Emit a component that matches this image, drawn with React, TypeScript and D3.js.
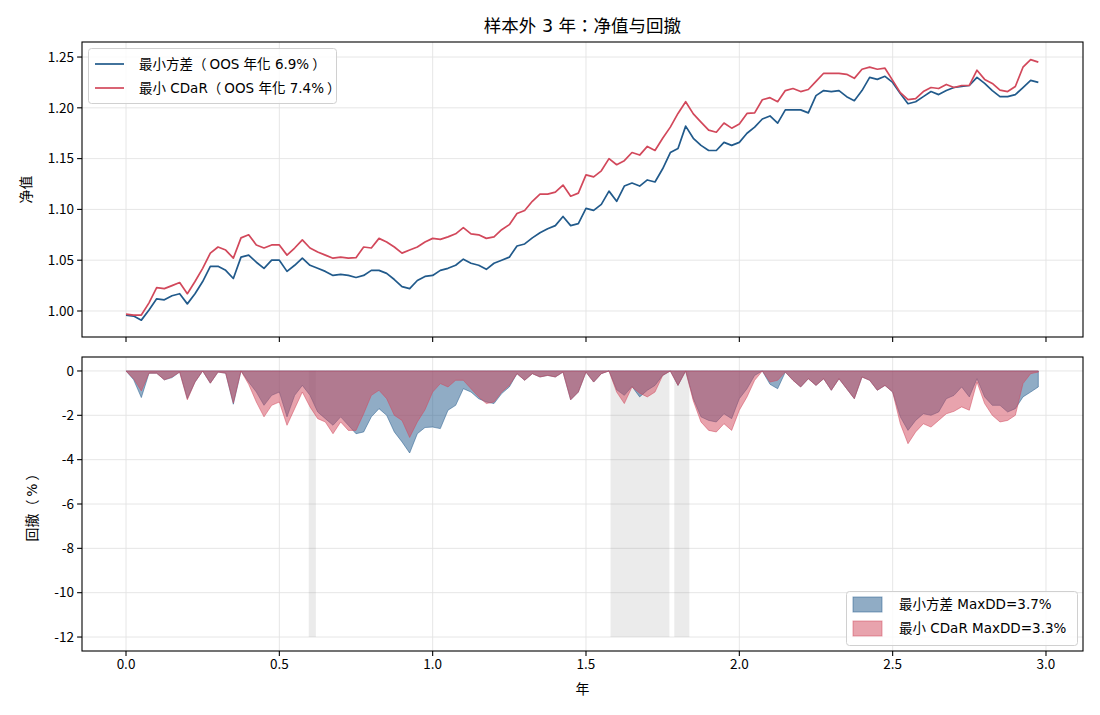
import * as d3 from "d3";
import { useEffect } from "react";

// sampling grid: one reading every 0.025 year
const step = 0.025;

// net value, min-variance portfolio
const navMinVar = [
  0.996, 0.995, 0.991, 1.001, 1.012, 1.011, 1.015, 1.017, 1.007, 1.017,
  1.029, 1.044, 1.044, 1.040, 1.032, 1.053, 1.055, 1.048, 1.042, 1.050,
  1.050, 1.039, 1.045, 1.052, 1.045, 1.042, 1.039, 1.035, 1.036, 1.035,
  1.033, 1.035, 1.040, 1.040, 1.037, 1.031, 1.024, 1.022, 1.030, 1.034,
  1.035, 1.040, 1.042, 1.045, 1.051, 1.047, 1.045, 1.041, 1.047, 1.050,
  1.053, 1.064, 1.066, 1.072, 1.077, 1.081, 1.084, 1.093, 1.084, 1.086,
  1.101, 1.099, 1.105, 1.118, 1.108, 1.123, 1.126, 1.123, 1.129, 1.127,
  1.140, 1.156, 1.160, 1.182, 1.170, 1.163, 1.158, 1.158, 1.166, 1.163,
  1.166, 1.175, 1.181, 1.189, 1.192, 1.185, 1.198, 1.198, 1.198, 1.195,
  1.212, 1.217, 1.216, 1.217, 1.211, 1.207, 1.217, 1.230, 1.228, 1.231,
  1.225, 1.214, 1.204, 1.206, 1.211, 1.216, 1.213, 1.217, 1.220, 1.221,
  1.222, 1.230, 1.224, 1.217, 1.211, 1.211, 1.213, 1.220, 1.227, 1.225,
];

// net value, min-CDaR portfolio
const navMinCdar = [
  0.997, 0.996, 0.996, 1.008, 1.023, 1.022, 1.025, 1.028, 1.017, 1.029,
  1.042, 1.057, 1.063, 1.060, 1.052, 1.072, 1.075, 1.065, 1.062, 1.065,
  1.065, 1.055, 1.062, 1.070, 1.062, 1.058, 1.055, 1.052, 1.053, 1.052,
  1.0525, 1.063, 1.062, 1.0715, 1.068, 1.063, 1.057, 1.060, 1.063, 1.068,
  1.0715, 1.0705, 1.073, 1.076, 1.082, 1.076, 1.075, 1.0715, 1.073, 1.080,
  1.085, 1.096, 1.099, 1.108, 1.115, 1.115, 1.117, 1.124, 1.113, 1.116,
  1.134, 1.132, 1.138, 1.150, 1.144, 1.148, 1.156, 1.1535, 1.162, 1.158,
  1.170, 1.181, 1.1945, 1.206, 1.194, 1.186, 1.178, 1.176, 1.185, 1.180,
  1.184, 1.1945, 1.195, 1.208, 1.210, 1.206, 1.217, 1.219, 1.216, 1.218,
  1.226, 1.234, 1.234, 1.234, 1.233, 1.229, 1.238, 1.240, 1.238, 1.239,
  1.227, 1.215, 1.208, 1.209, 1.216, 1.220, 1.219, 1.223, 1.220, 1.222,
  1.222, 1.237, 1.228, 1.224, 1.2175, 1.216, 1.221, 1.240, 1.2475, 1.245,
];

// drawdown in %, min-variance
const ddMinVar = [
  0, -0.4, -1.2, -0.1, -0.1, -0.4, -0.3, -0.05, -1.25, -0.5,
  0, -0.55, -0.05, -0.1, -1.5, 0, -0.5, -0.95, -1.55, -1.1,
  -0.95, -2.07, -1.1, -0.65, -1.1, -1.85, -2.15, -2.45, -2.07, -2.45,
  -2.83, -2.75, -2.07, -1.7, -2.0, -2.75, -3.2, -3.7, -2.83, -2.55,
  -2.53, -2.6, -1.77, -1.55, -0.8, -0.95, -1.25, -1.4, -1.47, -1.02,
  -0.72, -0.12, -0.42, -0.12, -0.27, -0.2, -0.27, -0.05, -1.3, -0.95,
  -0.05, -0.5, -0.12, 0, -0.85, -1.1, -0.7, -1.17, -0.87, -0.65,
  -0.2, 0, -0.65, 0, -1.25, -2.07, -2.23, -2.3, -1.93, -2.15,
  -1.25, -0.8, -0.2, 0, -0.6, -0.8, -0.05, -0.42, -0.72, -0.35,
  -0.65, -0.35, -0.87, -0.35, -0.8, -1.25, -0.27, -0.42, -0.87, -0.65,
  -0.95, -2.07, -2.68, -2.23, -1.93, -2.0, -1.85, -1.25, -1.1, -0.72,
  -1.17, -0.35, -1.17, -1.55, -1.55, -1.85, -1.7, -1.17, -0.95, -0.72,
];

// drawdown in %, min-CDaR
const ddMinCdar = [
  0, -0.35, -0.9, -0.1, -0.1, -0.4, -0.27, -0.05, -1.3, -0.5,
  0, -0.55, -0.05, -0.1, -1.45, 0, -0.6, -1.4, -2.07, -1.55,
  -1.4, -2.45, -1.7, -0.95, -1.62, -2.15, -2.3, -2.83, -2.3, -2.68,
  -2.68, -1.93, -1.1, -0.87, -1.25, -2.0, -2.23, -3.0, -2.3, -1.75,
  -0.95, -0.57, -0.72, -0.42, -0.42, -0.8, -1.17, -1.47, -1.4, -0.95,
  -0.65, -0.12, -0.42, -0.12, -0.27, -0.2, -0.27, -0.05, -1.3, -0.95,
  -0.05, -0.5, -0.12, 0, -0.95, -1.47, -0.72, -1.0, -1.17, -0.95,
  -0.2, 0, -0.65, 0, -1.35, -2.3, -2.68, -2.75, -2.38, -2.68,
  -1.77, -1.17, -0.42, 0, -0.5, -0.42, -0.05, -0.42, -0.72, -0.35,
  -0.65, -0.35, -0.87, -0.35, -0.8, -1.25, -0.27, -0.42, -0.87, -0.65,
  -0.95, -2.38, -3.28, -2.75, -2.38, -2.53, -2.23, -1.93, -1.82, -1.62,
  -1.77, -0.5, -1.47, -2.0, -2.3, -2.23, -2.0, -0.57, -0.12, -0.05,
];

// shaded periods (years)
const shadeSpans: [number, number][] = [
  [0.596, 0.619],
  [1.58, 1.772],
  [1.788, 1.837],
];

const seriesNames = ["最小方差", "最小 CDaR"];
const oosAnnual = ["6.9%", "7.4%"];
const maxDD = ["3.7%", "3.3%"];

const xTicks = [0, 0.5, 1.0, 1.5, 2.0, 2.5, 3.0];
const navTicks = [1.0, 1.05, 1.1, 1.15, 1.2, 1.25];
const ddTicks = [0, -2, -4, -6, -8, -10, -12];

const BLUE = "#215a8b";
const RED = "#d2485b";
const TICK_FONT = "'Noto Sans CJK TC', 'Noto Sans', sans-serif";
const TEXT_FONT = "'DejaVu Sans', 'Noto Sans CJK TC', sans-serif";

const left = 82;
const right = 1083;
const top1 = 42;
const bot1 = 337;
const top2 = 357;
const bot2 = 651;

const App = () => {
  useEffect(() => {
    document.body.style.margin = "0";
  }, []);

  const x = d3.scaleLinear().domain([-0.1435, 3.1207]).range([left, right]);
  const yNav = d3.scaleLinear().domain([0.9744, 1.2648]).range([bot1, top1]);
  const yDD = d3.scaleLinear().domain([-12.63, 0.63]).range([bot2, top2]);

  const t = (i: number) => i * step;

  const navLine = d3
    .line<number>()
    .x((_, i) => x(t(i)))
    .y(d => yNav(d));

  const ddArea = d3
    .area<number>()
    .x((_, i) => x(t(i)))
    .y0(yDD(0))
    .y1(d => yDD(d));

  const grid = "#e3e3e3";

  return (
    <svg width={1100} height={715} style={{ display: "block" }} fontFamily={TEXT_FONT}>
      <rect width={1100} height={715} fill="white" />
      <text x={582.5} y={32} textAnchor="middle" fontSize={17.5}>
        样本外 3 年：净值与回撤
      </text>

      {/* ---- top panel: NAV ---- */}
      <g>
        {xTicks.map(v => (
          <line key={"gx1" + v} x1={x(v)} x2={x(v)} y1={top1} y2={bot1} stroke={grid} strokeWidth={0.9} />
        ))}
        {navTicks.map(v => (
          <line key={"gy1" + v} x1={left} x2={right} y1={yNav(v)} y2={yNav(v)} stroke={grid} strokeWidth={0.9} />
        ))}
        <path d={navLine(navMinVar) ?? ""} fill="none" stroke={BLUE} strokeWidth={1.7} strokeLinejoin="round" />
        <path d={navLine(navMinCdar) ?? ""} fill="none" stroke={RED} strokeWidth={1.7} strokeLinejoin="round" />
        <rect x={left} y={top1} width={right - left} height={bot1 - top1} fill="none" stroke="black" strokeWidth={1.1} />
        {navTicks.map(v => (
          <g key={"ty1" + v} transform={`translate(${left},${yNav(v)})`}>
            <line x1={-4.9} x2={0} stroke="black" strokeWidth={1.1} />
            <text x={-8} dy="0.35em" textAnchor="end" fontSize={13.5} fontFamily={TICK_FONT}>
              {v.toFixed(2)}
            </text>
          </g>
        ))}
        {xTicks.map(v => (
          <line key={"tx1" + v} x1={x(v)} x2={x(v)} y1={bot1} y2={bot1 + 4.9} stroke="black" strokeWidth={1.1} />
        ))}
        <text transform={`translate(31,${(top1 + bot1) / 2}) rotate(-90)`} textAnchor="middle" fontSize={13.9}>
          净值
        </text>

        {/* legend */}
        <rect x={88.5} y={48.5} width={248} height={55} rx={3} fill="white" fillOpacity={0.8} stroke="#d0d0d0" />
        {[BLUE, RED].map((c, i) => (
          <g key={"lg1" + i} transform={`translate(95,${64 + i * 24})`}>
            <line x1={0} x2={29} stroke={c} strokeWidth={1.7} />
            <text x={44} dy="0.35em" fontSize={13.5}>
              {seriesNames[i]}（<tspan dx={3}>{`OOS 年化 ${oosAnnual[i]}`}</tspan>
              <tspan dx={3}>）</tspan>
            </text>
          </g>
        ))}
      </g>

      {/* ---- bottom panel: drawdown ---- */}
      <g>
        {xTicks.map(v => (
          <line key={"gx2" + v} x1={x(v)} x2={x(v)} y1={top2} y2={bot2} stroke={grid} strokeWidth={0.9} />
        ))}
        {ddTicks.map(v => (
          <line key={"gy2" + v} x1={left} x2={right} y1={yDD(v)} y2={yDD(v)} stroke={grid} strokeWidth={0.9} />
        ))}
        {shadeSpans.map(([a, b], i) => (
          <rect key={"sp" + i} x={x(a)} width={x(b) - x(a)} y={yDD(0)} height={yDD(-12) - yDD(0)} fill="#808080" fillOpacity={0.16} />
        ))}
        <path d={ddArea(ddMinVar) ?? ""} fill={BLUE} fillOpacity={0.5} stroke={BLUE} strokeOpacity={0.5} strokeWidth={1} />
        <path d={ddArea(ddMinCdar) ?? ""} fill={RED} fillOpacity={0.5} stroke={RED} strokeOpacity={0.5} strokeWidth={1} />
        <rect x={left} y={top2} width={right - left} height={bot2 - top2} fill="none" stroke="black" strokeWidth={1.1} />
        {ddTicks.map(v => (
          <g key={"ty2" + v} transform={`translate(${left},${yDD(v)})`}>
            <line x1={-4.9} x2={0} stroke="black" strokeWidth={1.1} />
            <text x={-8} dy="0.35em" textAnchor="end" fontSize={13.5} fontFamily={TICK_FONT}>
              {String(v)}
            </text>
          </g>
        ))}
        {xTicks.map(v => (
          <g key={"tx2" + v} transform={`translate(${x(v)},${bot2})`}>
            <line y1={0} y2={4.9} stroke="black" strokeWidth={1.1} />
            <text y={18} textAnchor="middle" fontSize={13.5} fontFamily={TICK_FONT}>
              {v.toFixed(1)}
            </text>
          </g>
        ))}
        <text transform={`translate(37,${(top2 + bot2) / 2}) rotate(-90)`} textAnchor="middle" fontSize={13.9}>
          回撤（<tspan dx={3}>%</tspan>
          <tspan dx={3}>）</tspan>
        </text>
        <text x={582.5} y={694} textAnchor="middle" fontSize={13.9}>
          年
        </text>

        {/* legend */}
        <rect x={846.5} y={591.5} width={231} height={54} rx={3} fill="white" fillOpacity={0.8} stroke="#d0d0d0" />
        {[BLUE, RED].map((c, i) => (
          <g key={"lg2" + i} transform={`translate(853,${597 + i * 24})`}>
            <rect x={0} y={0} width={29} height={15} fill={c} fillOpacity={0.5} stroke={c} strokeOpacity={0.5} />
            <text x={46} y={7.5} dy="0.35em" fontSize={13.5}>
              {`${seriesNames[i]} MaxDD=${maxDD[i]}`}
            </text>
          </g>
        ))}
      </g>
    </svg>
  );
};

export default App;
